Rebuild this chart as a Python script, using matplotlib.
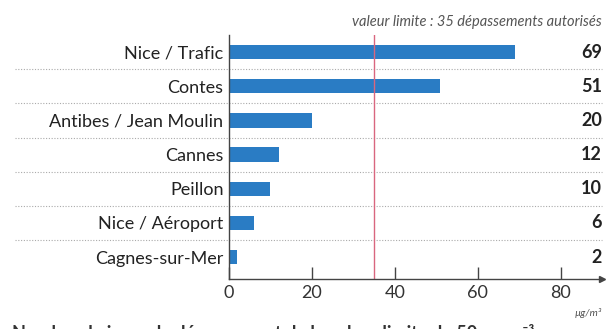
import matplotlib
matplotlib.use("Agg")
from matplotlib import pyplot as plt
import numpy as np

stations = ["Nice / Trafic", "Contes", "Antibes / Jean Moulin", "Cannes",
            "Peillon", "Nice / Aéroport", "Cagnes-sur-Mer"]
jours = [69, 51, 20, 12, 10, 6, 2]
limite = 35
ticks = [0, 20, 40, 60, 80]

plt.rcParams['font.family'] = ['Lato', 'DejaVu Sans']

fig = plt.figure(figsize=(6.15, 3.29), dpi=100)
ax = fig.add_axes([229 / 615, 1 - 279 / 329, (602 - 229) / 615, (279 - 35) / 329])

y = np.arange(len(stations))[::-1]
ax.barh(y, jours, height=0.42, color='#2a7cc4')
ax.set_xlim(0, 90)
ax.set_ylim(-0.64, 6.5)

# red limit line
ax.axvline(limite, color='#d9667f', lw=1.0)

# dotted separators between stations
for yy in y[:-1] - 0.5:
    ax.axhline(yy, xmin=-0.575, xmax=1.0, color='#aaaaaa', lw=0.8,
               ls=(0, (1, 1.5)), clip_on=False, zorder=0)

for s in ['top', 'right']:
    ax.spines[s].set_visible(False)
ax.spines['left'].set_color('#444444')
ax.spines['bottom'].set_color('#444444')
ax.spines['left'].set_linewidth(1.0)
ax.spines['bottom'].set_linewidth(1.0)

# arrow at end of x axis
ax.plot(1.0, 0, marker='>', color='#444444', markersize=4,
        transform=ax.transAxes, clip_on=False)

ax.set_xticks(ticks)
ax.set_xticklabels([str(t) for t in ticks], fontsize=13, color='#333333')
ax.tick_params(axis='x', direction='in', length=9, width=1, color='#444444', pad=4)
ax.set_yticks(y)
ax.set_yticklabels(stations, fontsize=13, color='#222222')
ax.tick_params(axis='y', length=0, pad=4)

for yy, v in zip(y, jours):
    ax.text(1.0, yy, str(v), transform=ax.get_yaxis_transform(),
            ha='right', va='center', fontsize=13, fontweight='bold', color='#222222')

fig.text(602 / 615, 1 - 22 / 329, "valeur limite : 35 dépassements autorisés",
         ha='right', va='center', fontsize=10.5, style='italic', color='#555555')
fig.text(602 / 615, 1 - 313 / 329, "µg/m³", ha='right', va='center',
         fontsize=7.5, style='italic', color='#555555')
fig.text(12 / 615, -0.012, "Nombre de jours de dépassement de la valeur limite de 50 µg.m⁻³",
         ha='left', va='center', fontsize=13, fontweight='bold', color='#333333')

fig.savefig("out.png", dpi=100)
